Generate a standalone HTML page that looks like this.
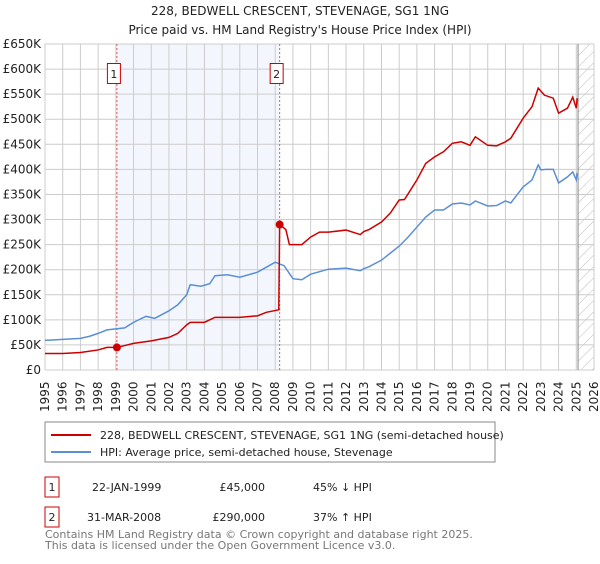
<!DOCTYPE html>
<html><head><meta charset="utf-8"><style>
body{margin:0;background:#fff;font-family:"DejaVu Sans","Liberation Sans",sans-serif;}
svg text{font-family:"DejaVu Sans","Liberation Sans",sans-serif;}
</style></head><body>
<svg id="chart" width="600" height="560" xmlns="http://www.w3.org/2000/svg">
<defs><pattern id="hatch" width="8" height="8" patternUnits="userSpaceOnUse" patternTransform="rotate(45)"><line x1="0" y1="0" x2="0" y2="8" stroke="#bbb" stroke-width="1"/></pattern></defs>
<text x="300" y="15" text-anchor="middle" font-size="12" fill="#222">228, BEDWELL CRESCENT, STEVENAGE, SG1 1NG</text>
<text x="300" y="34" text-anchor="middle" font-size="12" fill="#222">Price paid vs. HM Land Registry's House Price Index (HPI)</text>
<g id="plot"></g>
<rect x="45" y="422" width="450" height="40" fill="#fff" stroke="#888"/>
<line x1="51" y1="435" x2="91" y2="435" stroke="#cc0000" stroke-width="2"/>
<text x="100" y="439" font-size="11" fill="#222">228, BEDWELL CRESCENT, STEVENAGE, SG1 1NG (semi-detached house)</text>
<line x1="51" y1="452" x2="91" y2="452" stroke="#5b8fd4" stroke-width="2"/>
<text x="100" y="456" font-size="11" fill="#222">HPI: Average price, semi-detached house, Stevenage</text>
<rect x="45" y="477" width="14" height="20" fill="#fff" stroke="#cc0000"/>
<text x="52" y="491" text-anchor="middle" font-size="11" fill="#222">1</text>
<text x="92" y="491" font-size="11" fill="#222">22-JAN-1999</text>
<text x="265" y="491" text-anchor="end" font-size="11" fill="#222">£45,000</text>
<text x="313" y="491" font-size="11" fill="#222">45% ↓ HPI</text>
<rect x="45" y="507" width="14" height="20" fill="#fff" stroke="#cc0000"/>
<text x="52" y="521" text-anchor="middle" font-size="11" fill="#222">2</text>
<text x="87" y="521" font-size="11" fill="#222">31-MAR-2008</text>
<text x="265" y="521" text-anchor="end" font-size="11" fill="#222">£290,000</text>
<text x="313" y="521" font-size="11" fill="#222">37% ↑ HPI</text>
<text x="45" y="538" font-size="11" fill="#777">Contains HM Land Registry data © Crown copyright and database right 2025.</text>
<text x="45" y="549" font-size="11" fill="#777">This data is licensed under the Open Government Licence v3.0.</text>
</svg>
<script>
const yTicks=[0,50,100,150,200,250,300,350,400,450,500,550,600,650];
const yLabels=["£0","£50K","£100K","£150K","£200K","£250K","£300K","£350K","£400K","£450K","£500K","£550K","£600K","£650K"];
const years=[1995,1996,1997,1998,1999,2000,2001,2002,2003,2004,2005,2006,2007,2008,2009,2010,2011,2012,2013,2014,2015,2016,2017,2018,2019,2020,2021,2022,2023,2024,2025,2026];
const hpiT=[1995,1996,1997,1997.5,1998,1998.5,1999,1999.5,2000,2000.7,2001.2,2002,2002.5,2003,2003.2,2003.8,2004.3,2004.6,2005.3,2006,2007,2007.5,2008,2008.5,2009,2009.5,2010,2011,2012,2012.8,2013,2013.3,2014,2014.5,2015,2015.5,2016,2016.5,2017,2017.5,2018,2018.5,2019,2019.3,2020,2020.5,2021,2021.3,2022,2022.5,2022.85,2023,2023.3,2023.7,2024,2024.5,2024.8,2025,2025.05];
const hpiV=[59,61,63,67,73,80,82,84,95,107,103,118,130,150,170,167,172,188,190,185,195,205,215,208,182,180,191,201,203,198,202,206,219,233,247,265,285,305,319,319,331,333,329,337,327,328,337,333,365,379,409,399,400,400,373,385,395,379,393];
const priceT=[1995,1996,1997,1998,1998.5,1999.06,2000,2001,2002,2002.5,2003,2003.2,2004,2004.6,2006,2007,2007.5,2008.2,2008.25,2008.6,2008.8,2009.5,2010,2010.5,2011,2012,2012.8,2013,2013.3,2014,2014.5,2015,2015.3,2016,2016.5,2017,2017.5,2018,2018.5,2019,2019.3,2020,2020.5,2021,2021.3,2022,2022.5,2022.85,2023.2,2023.7,2024,2024.5,2024.8,2025,2025.05];
const priceV=[33,33,35,40,45,45,53,58,65,73,90,95,95,105,105,108,115,120,290,280,250,250,265,275,275,279,270,276,280,295,313,339,340,379,412,425,435,452,455,448,465,448,447,455,462,502,525,562,548,542,512,522,544,522,542];
const sales=[{t:1999.06,v:45,n:"1"},{t:2008.25,v:290,n:"2"}];
const L=45,R=594,T=44,B=370,x0=1995,x1=2026,yMax=650;
const xs=t=>L+(t-x0)/(x1-x0)*(R-L);
const ys=v=>B-v/yMax*(B-T);
const NS="http://www.w3.org/2000/svg";
const g=document.getElementById('plot');
function mk(tag,attrs,parent){const e=document.createElementNS(NS,tag);for(const k in attrs)e.setAttribute(k,attrs[k]);(parent||g).appendChild(e);return e;}
let e=mk('rect',{x:xs(1999.06),y:T,width:xs(2008.25)-xs(1999.06),height:B-T,fill:'#eef3fc',opacity:0.7});


e=mk('rect',{x:xs(2025.1),y:T,width:R-xs(2025.1),height:B-T,fill:'url(#hatch)'});


yTicks.forEach((v,i)=>{
 let l=mk('line',{x1:L,x2:R,y1:ys(v),y2:ys(v),stroke:'#ccc','stroke-width':1});
 
 
 let t=mk('text',{x:L-4,y:ys(v)+4,'text-anchor':'end','font-size':12,fill:'#222'});
 t.textContent=yLabels[i];
 
 
});
years.forEach(y=>{
 let l=mk('line',{x1:xs(y),x2:xs(y),y1:T,y2:B,stroke:'#ccc','stroke-width':1});
 
 
 let t=mk('text',{x:0,y:0,'font-size':12,fill:'#222',transform:`translate(${xs(y)+4},${B+42}) rotate(-90)`});
 t.textContent=y;
 
 
});
e=mk('line',{x1:xs(2025.1),x2:xs(2025.1),y1:T,y2:B,stroke:'#888','stroke-width':1});


sales.forEach(s=>{
 let l=mk('line',{x1:xs(s.t),x2:xs(s.t),y1:T,y2:B,stroke:'#e55','stroke-width':1,'stroke-dasharray':'2,2'});
 
 
 let r=mk('rect',{x:xs(s.t)-9.5,y:63.5,width:13,height:20,fill:'#fff',stroke:'#cc0000'});
 
 
 let t=mk('text',{x:xs(s.t)-3,y:78,'text-anchor':'middle','font-size':11,fill:'#222'});
 t.textContent=s.n;
 
 
});
e=mk('polyline',{points:hpiT.map((t,i)=>xs(t)+','+ys(hpiV[i])).join(' '),fill:'none',stroke:'#5b8fd4','stroke-width':1.5});


e=mk('polyline',{points:priceT.map((t,i)=>xs(t)+','+ys(priceV[i])).join(' '),fill:'none',stroke:'#cc0000','stroke-width':1.5});


sales.forEach(s=>{
 let c=mk('circle',{cx:xs(s.t),cy:ys(s.v),r:4,fill:'#cc0000'});
 
 
});
</script>
</body></html>
